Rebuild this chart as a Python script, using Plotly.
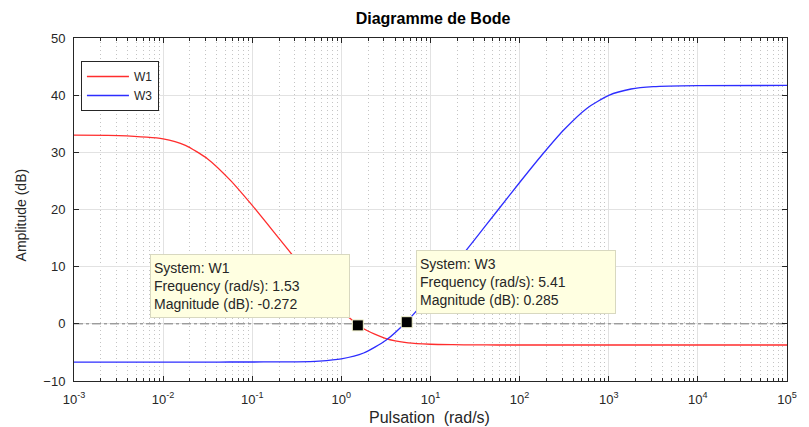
import plotly.graph_objects as go
import math

# ---- data ----
freq = [1e-3, 10**-2.5, 1e-2, 10**-1.75, 10**-1.5, 10**-1.25, 1e-1, 10**-0.75, 10**-0.5,
        10**-0.25, 1.0, 10**0.25, 10**0.5, 10**0.75, 1e1, 10**1.25, 10**1.5, 10**1.75,
        1e2, 10**2.25, 10**2.5, 10**2.75, 1e3, 10**3.25, 10**3.5, 1e4, 1e5]
w1_db = [33.0, 32.93, 32.36, 31.22, 28.85, 25.18, 20.71, 15.92, 11.08,
         6.40, 2.24, -0.86, -2.59, -3.32, -3.57, -3.65, -3.69, -3.70,
         -3.70, -3.70, -3.70, -3.70, -3.70, -3.70, -3.70, -3.70, -3.70]
w3_db = [-6.70, -6.70, -6.70, -6.70, -6.69, -6.68, -6.68, -6.66, -6.64,
         -6.51, -6.13, -5.10, -2.87, 0.68, 5.10, 9.90, 14.82, 19.78,
         24.72, 29.53, 33.99, 37.64, 39.97, 41.08, 41.50, 41.68, 41.70]
series_names = ["W1", "W3"]
tip_freq = [1.53, 5.41]
tip_mag = [-0.272, 0.285]
x_range = [1e-3, 1e5]
zero_db = [0, 0]
x_tick_vals = [1e-3, 1e-2, 1e-1, 1e0, 1e1, 1e2, 1e3, 1e4, 1e5]
x_tick_text = ["10<sup>-3</sup>", "10<sup>-2</sup>", "10<sup>-1</sup>", "10<sup>0</sup>",
               "10<sup>1</sup>", "10<sup>2</sup>", "10<sup>3</sup>", "10<sup>4</sup>",
               "10<sup>5</sup>"]
y_tick_vals = [-10, 0, 10, 20, 30, 40, 50]

FONT = "Liberation Sans, Arial, sans-serif"
AX = "#262626"

fig = go.Figure()
# 0 dB reference line (dash-dot)
fig.add_trace(go.Scatter(x=x_range, y=zero_db, mode="lines", showlegend=False, hoverinfo="skip",
                         line=dict(color="#7a7a7a", width=1, dash="dashdot")))
fig.add_trace(go.Scatter(x=freq, y=w1_db, mode="lines", name=series_names[0],
                         line=dict(color="rgb(255,45,45)", width=1.3, shape="spline", smoothing=0.6)))
fig.add_trace(go.Scatter(x=freq, y=w3_db, mode="lines", name=series_names[1],
                         line=dict(color="rgb(45,45,255)", width=1.3, shape="spline", smoothing=0.6)))
fig.add_trace(go.Scatter(x=tip_freq, y=tip_mag, mode="markers", showlegend=False,
                         marker=dict(symbol="square", size=11, color="black",
                                     line=dict(color="#f5f5d0", width=1))))

minor_vals = [m * 10 ** k for k in range(-3, 5) for m in range(2, 10)]

fig.update_xaxes(type="log", range=[-3, 5], tickvals=x_tick_vals, ticktext=x_tick_text,
                 showline=True, linecolor=AX, linewidth=1, mirror="allticks",
                 ticks="inside", ticklen=5, tickcolor=AX, ticklabelstandoff=6,
                 showgrid=True, gridcolor="#e2e2e2", gridwidth=1,
                 tickfont=dict(family=FONT, size=13, color=AX),
                 minor=dict(tickvals=minor_vals, ticks="inside", ticklen=3, tickcolor=AX,
                            showgrid=True, gridcolor="#c4c4c4", griddash="1px,3px", gridwidth=1),
                 zeroline=False)
fig.update_yaxes(range=[-10, 50], tickvals=y_tick_vals,
                 showline=True, linecolor=AX, linewidth=1, mirror="allticks",
                 ticks="inside", ticklen=5, tickcolor=AX, ticklabelstandoff=5,
                 showgrid=True, gridcolor="#e2e2e2", gridwidth=1,
                 tickfont=dict(family=FONT, size=13, color=AX), zeroline=False)

tip_bg = "#ffffe1"
tip_border = "#d8d8c0"
fig.add_annotation(x=math.log10(tip_freq[0]), y=tip_mag[0], xref="x", yref="y",
                   text=f"System: {series_names[0]}<br>Frequency (rad/s): {tip_freq[0]}<br>Magnitude (dB): {tip_mag[0]}",
                   showarrow=False, xanchor="right", yanchor="bottom", xshift=-8, yshift=7,
                   align="left", bgcolor=tip_bg, bordercolor=tip_border, borderwidth=1,
                   borderpad=3, width=192, height=56,
                   font=dict(family=FONT, size=14, color="#262626"))
fig.add_annotation(x=math.log10(tip_freq[1]), y=tip_mag[1], xref="x", yref="y",
                   text=f"System: {series_names[1]}<br>Frequency (rad/s): {tip_freq[1]}<br>Magnitude (dB): {tip_mag[1]}",
                   showarrow=False, xanchor="left", yanchor="bottom", xshift=9, yshift=8,
                   align="left", bgcolor=tip_bg, bordercolor=tip_border, borderwidth=1,
                   borderpad=3, width=192, height=56,
                   font=dict(family=FONT, size=14, color="#262626"))

# axis titles
fig.add_annotation(text="Pulsation  (rad/s)", xref="paper", yref="paper",
                   x=(432 - 74) / 719, y=-(417 - 381) / 343, xanchor="center", yanchor="middle",
                   showarrow=False, font=dict(family=FONT, size=16, color=AX))
fig.add_annotation(text="Amplitude (dB)", xref="paper", yref="paper", textangle=-90,
                   x=-(74 - 21) / 719, y=(381 - 215) / 343, xanchor="center", yanchor="middle",
                   showarrow=False, font=dict(family=FONT, size=14, color=AX))

fig.update_layout(
    width=809, height=427,
    margin=dict(l=74, r=16, t=38, b=46),
    paper_bgcolor="white", plot_bgcolor="white",
    title=dict(text="<b>Diagramme de Bode</b>", x=433 / 809, xanchor="center",
               y=1 - 18 / 427, yanchor="middle",
               font=dict(family=FONT, size=16, color="black")),
    legend=dict(x=(81 - 74) / 719, y=1 - (61 - 38) / 343, xanchor="left", yanchor="top",
                bgcolor="white", bordercolor=AX, borderwidth=1,
                font=dict(family=FONT, size=12, color=AX), tracegroupgap=0,
                itemwidth=42),
    showlegend=True,
)

fig.write_html("out.html", config={"displayModeBar": False},
               post_script="document.body.style.margin='0';document.body.style.padding='0';")
